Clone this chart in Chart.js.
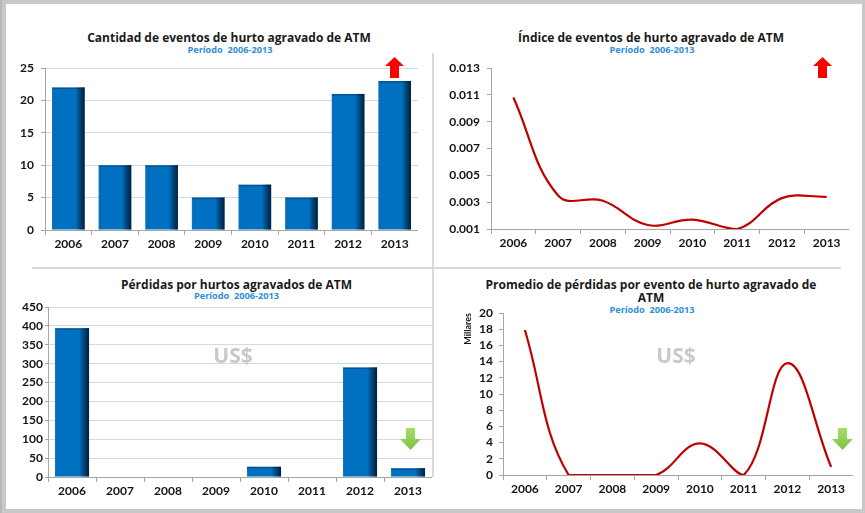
<!DOCTYPE html>
<html>
<head>
<meta charset="utf-8">
<script src="https://cdn.jsdelivr.net/npm/chart.js@4/dist/chart.umd.min.js"></script>
<style>
body { margin: 0; width: 865px; height: 513px; background: #c9c9c9; position: relative; overflow: hidden; }
#edge { position: absolute; left: 0; top: 0; width: 2px; height: 513px; background: #b9b9b9; }
#sheet { position: absolute; left: 6px; top: 4px; width: 856px; height: 505px; background: #fff; }
canvas { position: absolute; }
.vline { position: absolute; left: 432px; top: 53px; width: 2px; height: 424px; background: #dadada; }
.hline { position: absolute; left: 32px; top: 267px; width: 809px; height: 2px; background: #dadada; }
.ttl { position: absolute; transform: translate(-50%, -50%); white-space: nowrap; text-align: center;
       font: bold 12px "Open Sans", sans-serif; line-height: 13.4px; color: #1a1a1a; }
.sub { position: absolute; transform: translate(-50%, -50%); white-space: pre;
       font: bold 9.2px "Open Sans", sans-serif; line-height: 10px; color: #2f8fdb; }
.usd { position: absolute; color: #c9c9c9; font: bold 21px "Open Sans", sans-serif; transform: translate(-50%, -50%); }
svg { position: absolute; }
</style>
</head>
<body>
<div id="edge"></div>
<div id="sheet"></div>
<div class="vline"></div>
<div class="hline"></div>

<div class="ttl" style="left:229px;top:38px">Cantidad de eventos de hurto agravado de ATM</div>
<div class="sub" style="left:230px;top:50px">Período  2006-2013</div>
<div class="ttl" style="left:651px;top:37.5px">Índice de eventos de hurto agravado de ATM</div>
<div class="sub" style="left:652px;top:50px">Período  2006-2013</div>
<div class="ttl" style="left:236.5px;top:285px">Pérdidas por hurtos agravados de ATM</div>
<div class="sub" style="left:236.5px;top:296px">Período  2006-2013</div>
<div class="ttl" style="left:651px;top:291px">Promedio de pérdidas por evento de hurto agravado de<br>ATM</div>
<div class="sub" style="left:652px;top:310px">Período  2006-2013</div>

<canvas id="eventos" width="412" height="210" style="left:6px;top:48px"></canvas>
<canvas id="indice" width="413" height="209" style="left:436px;top:48px"></canvas>
<canvas id="perdidas" width="426" height="218" style="left:6px;top:287px"></canvas>
<canvas id="promedio" width="417" height="210" style="left:436px;top:293px"></canvas>

<div class="usd" style="left:233px;top:355px">US$</div>
<div class="usd" style="left:676px;top:355px">US$</div>

<svg width="19" height="21" style="left:385px;top:57px"><polygon points="9.5,0 19,9 14,9 14,21 5,21 5,9 0,9" fill="#ff0000"/></svg>
<svg width="19" height="21" style="left:813px;top:57px"><polygon points="9.5,0 19,9 14,9 14,21 5,21 5,9 0,9" fill="#ff0000"/></svg>
<svg width="21" height="22" style="left:400px;top:428px">
  <defs><linearGradient id="g1" x1="0" y1="0" x2="0" y2="1"><stop offset="0" stop-color="#a9dc6c"/><stop offset="1" stop-color="#7cc142"/></linearGradient></defs>
  <polygon points="6,0 15,0 15,11 21,11 10.5,22 0,11 6,11" fill="url(#g1)"/></svg>
<svg width="21" height="22" style="left:832px;top:428px">
  <polygon points="6,0 15,0 15,11 21,11 10.5,22 0,11 6,11" fill="url(#g1)"/></svg>

<script>
const years = ['2006', '2007', '2008', '2009', '2010', '2011', '2012', '2013'];
const eventos = [22, 10, 10, 5, 7, 5, 21, 23];
const indice = [0.0108, 0.0035, 0.0031, 0.0013, 0.0017, 0.0010, 0.0033, 0.0034];
const indiceTicks = [0.001, 0.003, 0.005, 0.007, 0.009, 0.011, 0.013];
const perdidas = [394, 0, 0, 0, 27, 0, 290, 23];
const promedio = [17.9, 0, 0, 0, 3.9, 0, 13.8, 1.0];

Chart.defaults.font.family = 'Lato';
Chart.defaults.color = '#141414';

const AXIS = '#a6a6a6';
const GRID = '#d9d9d9';
const BLUE = '#0070c0';
const RED = '#c00000';

// darker shading on the right edge of each bar
const barShade = {
    id: 'barShade',
    afterDatasetsDraw(chart) {
        const ctx = chart.ctx;
        chart.getDatasetMeta(0).data.forEach(bar => {
            const p = bar.getProps(['x', 'y', 'base', 'width'], true);
            if (p.base - p.y < 1) {
                return;
            }
            const left = p.x - p.width / 2;
            const g = ctx.createLinearGradient(left, 0, left + p.width, 0);
            g.addColorStop(0, 'rgba(120,180,230,0.25)');
            g.addColorStop(0.08, 'rgba(0,0,0,0)');
            g.addColorStop(0.72, 'rgba(0,0,0,0)');
            g.addColorStop(1, 'rgba(0,18,45,0.85)');
            ctx.save();
            ctx.fillStyle = g;
            ctx.fillRect(left, p.y, p.width, p.base - p.y);
            ctx.fillStyle = 'rgba(0,30,70,0.35)';
            ctx.fillRect(left, p.y, p.width, 1.5);
            ctx.restore();
        });
    }
};

function xAxis() {
    return {
        offset: true,
        grid: { offset: true, drawOnChartArea: false, tickLength: 5, tickColor: AXIS },
        border: { color: AXIS },
        ticks: { padding: 2, maxRotation: 0, autoSkip: false, font: { size: 12, weight: 'bold' } },
        afterFit(s) { s.height = 28; }
    };
}

function yAxis(cfg) {
    return {
        min: cfg.min,
        max: cfg.max,
        grid: { display: true, drawOnChartArea: cfg.grid, color: GRID, tickLength: cfg.tl, tickColor: AXIS },
        border: { color: AXIS },
        ticks: { stepSize: cfg.step, padding: cfg.pad, autoSkip: false, font: { size: 12, weight: 'bold' }, callback: cfg.fmt },
        afterBuildTicks: cfg.ticks ? (s => { s.ticks = cfg.ticks.map(v => ({ value: v })); }) : undefined,
        afterFit(s) { s.width = cfg.width; },
        title: cfg.title
    };
}

const noLegend = { legend: { display: false }, tooltip: { enabled: false } };
// top padding larger than the axis' own label padding, so the plot top is exact
const pad = { left: 0, right: 0, top: 20, bottom: 0 };

new Chart(document.getElementById('eventos'), {
    type: 'bar',
    data: {
        labels: years,
        datasets: [{ data: eventos, backgroundColor: BLUE, categoryPercentage: 1, barPercentage: 0.7 }]
    },
    options: {
        responsive: false,
        animation: false,
        layout: { padding: pad },
        plugins: noLegend,
        scales: {
            x: xAxis(),
            y: yAxis({ min: 0, max: 25, step: 5, grid: true, tl: 4, pad: 7, width: 39 })
        }
    },
    plugins: [barShade]
});

new Chart(document.getElementById('indice'), {
    type: 'line',
    data: {
        labels: years,
        datasets: [{ data: indice, borderColor: RED, borderWidth: 2.2, tension: 0.4, pointRadius: 0, fill: false }]
    },
    options: {
        responsive: false,
        animation: false,
        layout: { padding: pad },
        plugins: noLegend,
        scales: {
            x: xAxis(),
            y: yAxis({ min: 0.001, max: 0.013, grid: false, tl: 4, pad: 7, width: 55,
                       ticks: indiceTicks, fmt: v => Number(v).toFixed(3) })
        }
    }
});

new Chart(document.getElementById('perdidas'), {
    type: 'bar',
    data: {
        labels: years,
        datasets: [{ data: perdidas, backgroundColor: BLUE, categoryPercentage: 1, barPercentage: 0.71 }]
    },
    options: {
        responsive: false,
        animation: false,
        layout: { padding: pad },
        plugins: noLegend,
        scales: {
            x: xAxis(),
            y: yAxis({ min: 0, max: 450, step: 50, grid: true, tl: 3, pad: 2, width: 42 })
        }
    },
    plugins: [barShade]
});

new Chart(document.getElementById('promedio'), {
    type: 'line',
    data: {
        labels: years,
        datasets: [{ data: promedio, borderColor: RED, borderWidth: 2.2, tension: 0.4, pointRadius: 0, fill: false }]
    },
    options: {
        responsive: false,
        animation: false,
        layout: { padding: pad },
        plugins: noLegend,
        scales: {
            x: xAxis(),
            y: yAxis({ min: 0, max: 20, step: 2, grid: false, tl: 4, pad: 6, width: 67,
                       title: { display: true, text: 'Millares', align: 'end', color: '#141414',
                                font: { size: 9, weight: 'bold', lineHeight: 1.2 }, padding: { top: 27, bottom: 0 } } })
        }
    }
});
</script>
</body>
</html>
